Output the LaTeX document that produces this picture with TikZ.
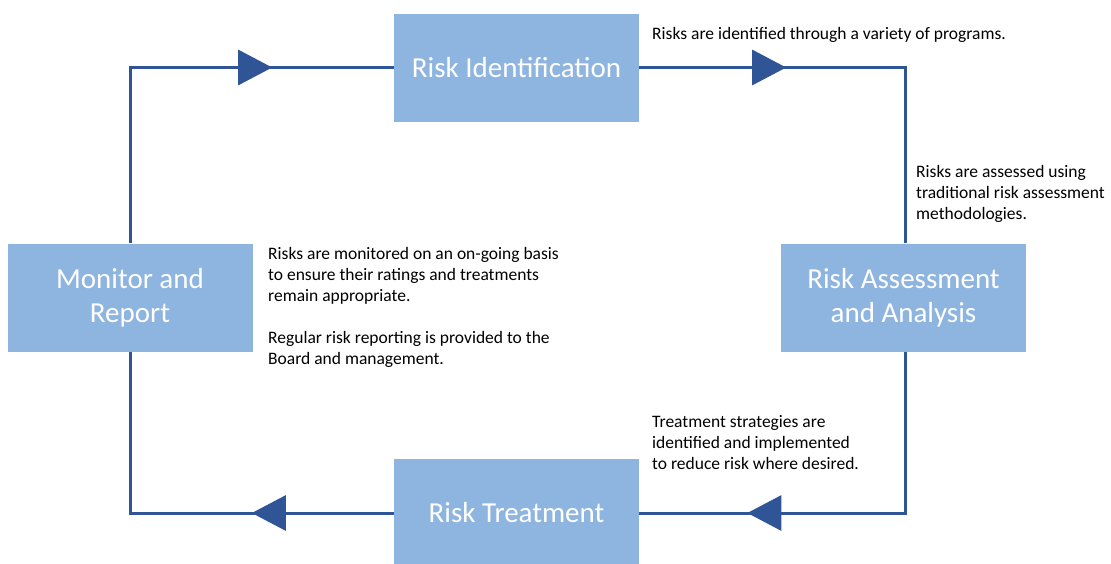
\documentclass[tikz,border=0pt]{standalone}
\usepackage{fontspec}
\setmainfont{Carlito}
\usetikzlibrary{arrows.meta,decorations.markings}
\definecolor{boxblue}{HTML}{8EB4E0}
\definecolor{linkblue}{HTML}{2F5597}
\tikzset{
  stagebox/.style={draw=none, fill=boxblue, minimum width=245pt, minimum height=108pt,
    text=white, align=center, font=\fontsize{29}{34}\selectfont, inner sep=0pt},
  note/.style={anchor=base west, inner sep=0pt, align=left, font=\fontsize{17.5}{21}\selectfont, text=black},
  link/.style={draw=linkblue, line width=3pt, postaction={decorate},
    decoration={markings, mark=at position #1 with {\arrow{Triangle[length=34pt,width=35pt,fill=linkblue,color=linkblue]}}}},
}
\begin{document}
\begin{tikzpicture}[x=1pt,y=-1pt]
\useasboundingbox (0,0) rectangle (1111,563);
\node[stagebox] (RI) at (516.5,67.5) {Risk Identification};
\node[stagebox] (RA) at (903.5,297.5) {Risk Assessment\\and Analysis};
\node[stagebox] (RT) at (516.5,513) {Risk Treatment};
\node[stagebox] (MR) at (130,297.5) {Monitor and\\Report};

\draw[link=318pt] (MR.north) |- (RI.west);
\draw[link=147pt] (RI.east) -| ([xshift=1.5pt]RA.north);
\draw[link=319pt] ([xshift=1.5pt]RA.south) |- (RT.east);
\draw[link=142pt] (RT.west) -| (MR.south);

% notes: anchor at baseline of last line
\node[note] (n1) at (652,39) {Risks are identified through a variety of programs.};
\node[note] (n2) at (916,219) {Risks are assessed using\\traditional risk assessment\\methodologies.};
\node[note] (n3) at (652,469) {Treatment strategies are\\identified and implemented\\to reduce risk where desired.};
\node[note] (n4) at (268,364) {Risks are monitored on an on-going basis\\to ensure their ratings and treatments\\remain appropriate.\\[21pt]Regular risk reporting is provided to the\\Board and management.};
\end{tikzpicture}
\end{document}
